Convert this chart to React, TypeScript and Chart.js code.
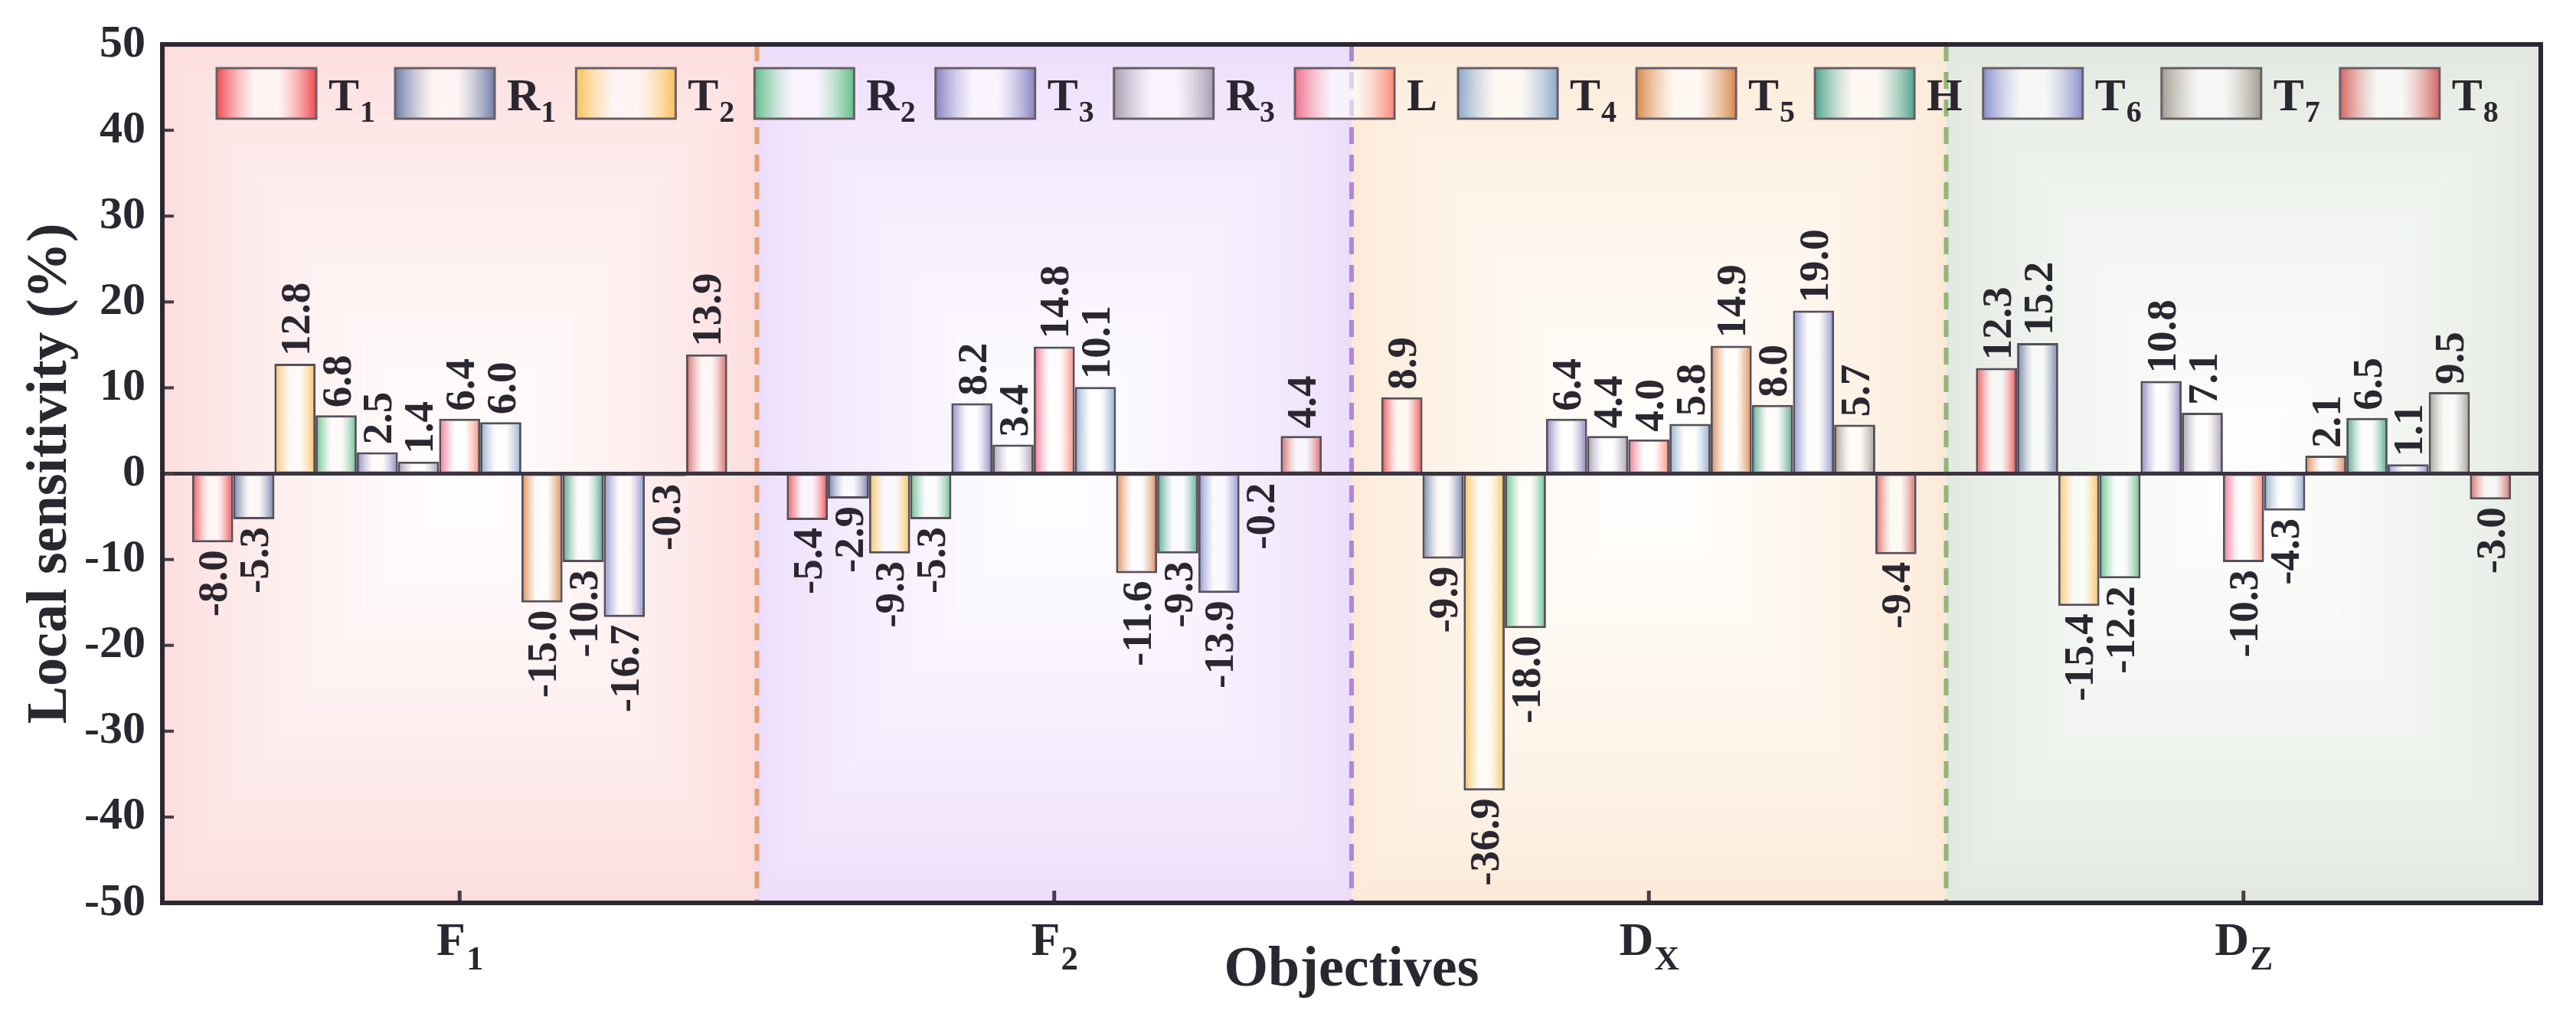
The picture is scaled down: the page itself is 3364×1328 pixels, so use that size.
import React, { useEffect, useRef } from 'react';
import { Chart, registerables } from 'chart.js';

Chart.register(...registerables);

// ---------- data ----------
const categories = ['F1', 'F2', 'DX', 'DZ'];
const categoryMain = ['F', 'F', 'D', 'D'];
const categorySub = ['1', '2', 'X', 'Z'];

const seriesNames = ['T1', 'R1', 'T2', 'R2', 'T3', 'R3', 'L', 'T4', 'T5', 'H', 'T6', 'T7', 'T8'];
const seriesMain = ['T', 'R', 'T', 'R', 'T', 'R', 'L', 'T', 'T', 'H', 'T', 'T', 'T'];
const seriesSub = ['1', '1', '2', '2', '3', '3', '', '4', '5', '', '6', '7', '8'];

const T1 = [-8.0, -5.4, 8.9, 12.3];
const R1 = [-5.3, -2.9, -9.9, 15.2];
const T2 = [12.8, -9.3, -36.9, -15.4];
const R2 = [6.8, -5.3, -18.0, -12.2];
const T3 = [2.5, 8.2, 6.4, 10.8];
const R3 = [1.4, 3.4, 4.4, 7.1];
const L = [6.4, 14.8, 4.0, -10.3];
const T4 = [6.0, 10.1, 5.8, -4.3];
const T5 = [-15.0, -11.6, 14.9, 2.1];
const H = [-10.3, -9.3, 8.0, 6.5];
const T6 = [-16.7, -13.9, 19.0, 1.1];
const T7 = [-0.3, -0.2, 5.7, 9.5];
const T8 = [13.9, 4.4, -9.4, -3.0];

const seriesData = [T1, R1, T2, R2, T3, R3, L, T4, T5, H, T6, T7, T8];

const yMin = -50;
const yMax = 50;
const yStep = 10;

const xTitle = 'Objectives';
const yTitle = 'Local sensitivity (%)';

// ---------- styles ----------
const colorsLeft = ['#f04a4d', '#6c7da6', '#f9c158', '#5fbe88', '#8782c2', '#a49bb0', '#f06e8a', '#8ca9cb', '#d8874b', '#4ea38b', '#8790cc', '#a19c8e', '#d3655f'];
const colorsRight = ['#f04a4d', '#6c7da6', '#f9c158', '#5fbe88', '#8782c2', '#a49bb0', '#fa8a76', '#8ca9cb', '#d8874b', '#4ea38b', '#8790cc', '#a19c8e', '#d3655f'];
const panelEdge = ['#fcdcdc', '#ecdcfb', '#fce9d6', '#e1e8df'];
const panelCenter = ['#fffdfd', '#fefdff', '#fffefc', '#fdfefd'];
const sepColors = ['#df9f72', '#b286d6', '#92b578'];

const FONT = "'Liberation Serif', 'Times New Roman', Times, serif";
const TEXT = '#2b2731';
const CAT_PCT = 0.9;

function hexRgb(hex: string) {
  const h = hex.replace('#', '');
  return [parseInt(h.slice(0, 2), 16), parseInt(h.slice(2, 4), 16), parseInt(h.slice(4, 6), 16)];
}
function rgba(hex: string, a: number) {
  const [r, g, b] = hexRgb(hex);
  return `rgba(${r},${g},${b},${a})`;
}
function mix(a: string, b: string, t: number) {
  const A = hexRgb(a);
  const B = hexRgb(b);
  const c = A.map((v, i) => Math.round(v + (B[i] - v) * t));
  return `rgb(${c[0]},${c[1]},${c[2]})`;
}

function makeGradient(ctx: CanvasRenderingContext2D, left: number, width: number, cl: string, cr: string) {
  const g = ctx.createLinearGradient(left, 0, left + width, 0);
  g.addColorStop(0, rgba(cl, 1));
  g.addColorStop(0.38, 'rgba(255,255,255,0.6)');
  g.addColorStop(0.62, 'rgba(255,255,255,0.6)');
  g.addColorStop(1, rgba(cr, 1));
  return g;
}

function drawSub(
  ctx: CanvasRenderingContext2D,
  main: string,
  sub: string,
  x: number,
  y: number,
  mainSize: number,
  subSize: number,
  subDy: number,
  align: 'left' | 'center'
) {
  ctx.save();
  ctx.textBaseline = 'alphabetic';
  ctx.textAlign = 'left';
  ctx.font = `bold ${mainSize}px ${FONT}`;
  const wm = ctx.measureText(main).width;
  ctx.font = `bold ${subSize}px ${FONT}`;
  const ws = sub ? ctx.measureText(sub).width : 0;
  const x0 = align === 'center' ? x - (wm + ws) / 2 : x;
  ctx.font = `bold ${mainSize}px ${FONT}`;
  ctx.fillText(main, x0, y);
  if (sub) {
    ctx.font = `bold ${subSize}px ${FONT}`;
    ctx.fillText(sub, x0 + wm + 1, y + subDy);
  }
  ctx.restore();
  return wm + ws;
}

function boundaries(chart: any) {
  const xs = chart.scales.x;
  const area = chart.chartArea;
  const n = categories.length;
  const b: number[] = [area.left];
  for (let i = 0; i < n - 1; i++) {
    b.push((xs.getPixelForValue(i) + xs.getPixelForValue(i + 1)) / 2);
  }
  b.push(area.right);
  return b;
}

const decor = {
  id: 'decor',
  beforeDatasetsDraw(chart: any) {
    const ctx: CanvasRenderingContext2D = chart.ctx;
    const area = chart.chartArea;
    const b = boundaries(chart);
    const top = area.top;
    const h = area.bottom - area.top;
    ctx.save();
    for (let i = 0; i < categories.length; i++) {
      const x0 = b[i];
      const w = b[i + 1] - b[i];
      const steps = 60;
      for (let k = 0; k <= steps; k++) {
        const t = k / steps;
        const dx = t * w * 0.46;
        const dy = t * h * 0.46;
        const e = Math.pow(t, 0.7);
        ctx.fillStyle = mix(panelEdge[i], panelCenter[i], e);
        ctx.fillRect(x0 + dx, top + dy, w - 2 * dx, h - 2 * dy);
      }
    }
    // separators
    ctx.lineWidth = 6;
    ctx.setLineDash([22, 14]);
    for (let i = 1; i < categories.length; i++) {
      ctx.strokeStyle = sepColors[i - 1];
      ctx.beginPath();
      ctx.moveTo(b[i], area.top);
      ctx.lineTo(b[i], area.bottom);
      ctx.stroke();
    }
    ctx.restore();
  },
  afterDatasetsDraw(chart: any) {
    const ctx: CanvasRenderingContext2D = chart.ctx;
    const area = chart.chartArea;
    const ys = chart.scales.y;
    const xs = chart.scales.x;
    ctx.save();
    // zero line
    const y0 = ys.getPixelForValue(0);
    ctx.strokeStyle = '#3a3440';
    ctx.lineWidth = 5;
    ctx.beginPath();
    ctx.moveTo(area.left, y0);
    ctx.lineTo(area.right, y0);
    ctx.stroke();

    // y ticks (inward)
    ctx.strokeStyle = '#4b3c45';
    ctx.lineWidth = 4;
    for (let v = yMin + yStep; v < yMax; v += yStep) {
      const y = ys.getPixelForValue(v);
      ctx.beginPath();
      ctx.moveTo(area.left, y);
      ctx.lineTo(area.left + 15, y);
      ctx.stroke();
    }
    // x ticks (inward)
    ctx.lineWidth = 5;
    for (let i = 0; i < categories.length; i++) {
      const x = xs.getPixelForValue(i);
      ctx.beginPath();
      ctx.moveTo(x, area.bottom);
      ctx.lineTo(x, area.bottom - 16);
      ctx.stroke();
    }

    // frame
    ctx.strokeStyle = '#2c2833';
    ctx.lineWidth = 6;
    ctx.strokeRect(area.left, area.top, area.right - area.left, area.bottom - area.top);

    // value labels
    const fs = 55;
    ctx.fillStyle = TEXT;
    ctx.font = `bold ${fs}px ${FONT}`;
    ctx.textBaseline = 'alphabetic';
    chart.data.datasets.forEach((ds: any, di: number) => {
      const meta = chart.getDatasetMeta(di);
      meta.data.forEach((el: any, j: number) => {
        const v = ds.data[j] as number;
        const txt = v.toFixed(1);
        const gap = 10;
        ctx.save();
        if (v >= 0) {
          ctx.translate(el.x + fs * 0.34, el.y - gap);
          ctx.rotate(-Math.PI / 2);
          ctx.textAlign = 'left';
        } else {
          ctx.translate(el.x + fs * 0.34, el.y + gap);
          ctx.rotate(-Math.PI / 2);
          ctx.textAlign = 'right';
        }
        ctx.fillText(txt, 0, 0);
        ctx.restore();
      });
    });

    // legend
    let lx = area.left + 71;
    const boxTop = area.top + 31;
    const boxW = 130;
    const boxH = 66;
    for (let i = 0; i < seriesNames.length; i++) {
      ctx.fillStyle = makeGradient(ctx, lx, boxW, colorsLeft[i], colorsRight[i]);
      ctx.fillRect(lx, boxTop, boxW, boxH);
      ctx.strokeStyle = '#6a5e66';
      ctx.lineWidth = 3;
      ctx.strokeRect(lx, boxTop, boxW, boxH);
      ctx.fillStyle = TEXT;
      const tw = drawSub(ctx, seriesMain[i], seriesSub[i], lx + boxW + 16, boxTop + 55, 60, 40, 15, 'left');
      lx += boxW + 16 + tw + 27;
    }

    // x tick labels
    ctx.fillStyle = TEXT;
    for (let i = 0; i < categories.length; i++) {
      const x = xs.getPixelForValue(i);
      drawSub(ctx, categoryMain[i], categorySub[i], x, area.bottom + 68, 62, 45, 19, 'center');
    }

    // axis titles
    ctx.fillStyle = TEXT;
    ctx.font = `bold 74px ${FONT}`;
    ctx.textAlign = 'center';
    ctx.textBaseline = 'alphabetic';
    ctx.fillText(xTitle, (area.left + area.right) / 2, area.bottom + 108);
    ctx.save();
    ctx.translate(86, (area.top + area.bottom) / 2);
    ctx.rotate(-Math.PI / 2);
    ctx.fillText(yTitle, 0, 0);
    ctx.restore();

    ctx.restore();
  },
};

export default function App() {
  const ref = useRef<HTMLCanvasElement | null>(null);
  useEffect(() => {
    const canvas = ref.current;
    if (!canvas) return;
    const nCat = categories.length;
    const nSer = seriesNames.length;
    const chart = new Chart(canvas, {
      type: 'bar',
      data: {
        labels: categories,
        datasets: seriesNames.map((name, i) => ({
          label: name,
          data: seriesData[i],
          backgroundColor: (c: any) => {
            const ch = c.chart;
            const xs = ch.scales && ch.scales.x;
            if (!ch.chartArea || !xs || c.dataIndex === undefined) return colorsLeft[i];
            const center = xs.getPixelForValue(c.dataIndex);
            const catW = xs.width / nCat;
            const group = catW * CAT_PCT;
            const bw = group / nSer;
            const left = center - group / 2 + c.datasetIndex * bw;
            return makeGradient(ch.ctx, left, bw, colorsLeft[i], colorsRight[i]);
          },
          borderColor: '#56505b',
          borderWidth: 3,
          borderSkipped: false,
          categoryPercentage: CAT_PCT,
          barPercentage: 1.0,
        })),
      },
      options: {
        responsive: false,
        animation: false,
        devicePixelRatio: 1,
        layout: { padding: { top: 56, right: 46, left: 0, bottom: 0 } },
        plugins: {
          legend: { display: false },
          tooltip: { enabled: false },
        },
        scales: {
          x: {
            grid: { display: false, drawTicks: false },
            border: { display: false },
            ticks: { display: false },
            afterFit: (s: any) => {
              s.height = 149;
            },
          },
          y: {
            min: yMin,
            max: yMax,
            grid: { display: false, drawTicks: false },
            border: { display: false },
            ticks: {
              stepSize: yStep,
              padding: 22,
              color: TEXT,
              font: { family: FONT, size: 60, weight: 'bold' },
            },
            afterFit: (s: any) => {
              s.width = 212;
            },
          },
        },
      },
      plugins: [decor],
    } as any);
    return () => chart.destroy();
  }, []);
  return (
    <div style={{ position: 'absolute', left: 0, top: 0, width: 3364, height: 1328, background: '#fff' }}>
      <canvas ref={ref} width={3364} height={1328} style={{ display: 'block' }} />
    </div>
  );
}
